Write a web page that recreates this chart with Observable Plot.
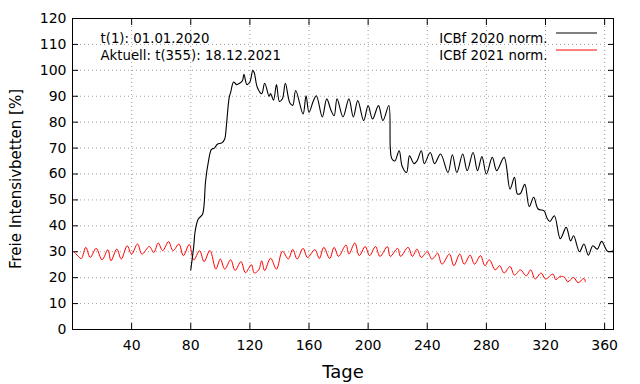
<!DOCTYPE html>
<html>
<head>
<meta charset="utf-8">
<script src="https://cdn.jsdelivr.net/npm/d3@7"></script>
<script src="https://cdn.jsdelivr.net/npm/@observablehq/plot@0.6"></script>
<style>
  html, body { margin: 0; padding: 0; background: white; }
  svg { display: block; }
</style>
</head>
<body>
<div id="chart"></div>
<script>
// ICBf 2020 normalized (black)
const days2020 = [80, 82, 83, 85, 88, 89, 90, 92, 94, 96, 98, 101, 103, 104, 106, 107, 109, 111, 113, 115, 116, 118, 120, 122, 123, 125, 128, 130, 133, 134, 136, 138, 140, 142, 144, 147, 149, 151, 156, 158, 160, 163, 165, 169, 172, 175, 177, 179, 183, 187, 190, 193, 197, 200, 203, 207, 210, 214, 215, 216, 218, 221, 223, 226, 228, 231, 233, 236, 238, 242, 245, 249, 254, 257, 260, 264, 267, 271, 274, 277, 280, 284, 287, 292, 296, 299, 301, 303, 306, 309, 312, 315, 319, 321, 323, 326, 330, 334, 337, 339, 343, 346, 349, 352, 355, 358, 362, 366];
const icbf2020 = [23, 32, 38, 42.5, 44.5, 48, 57, 65, 69.5, 70, 71.5, 72, 73.5, 78, 89.5, 91.5, 95.5, 94.5, 95, 96, 98.5, 94.5, 95.5, 100, 99, 93.5, 91, 95, 90, 91, 88.5, 94.5, 88, 89, 95, 87.5, 86.5, 92.2, 83.2, 90.2, 83.8, 88.3, 90.2, 82, 89, 84.4, 82.5, 89, 82, 89, 82, 88.3, 80.6, 86.4, 81.2, 86.4, 80.6, 86.4, 70, 66, 65, 69, 63, 60.6, 67, 64, 65, 69, 64, 68.3, 64, 67.7, 60.6, 67.4, 60.6, 67.7, 61.3, 68.3, 61.3, 66.7, 60, 66.4, 61.3, 66.4, 54.2, 58.7, 52.3, 52.5, 56, 47.4, 51, 46.5, 45.8, 43, 41.7, 43.9, 35, 39.4, 34.2, 36.2, 30, 33, 28.7, 32.3, 31, 34, 30.2, 30.4];

// ICBf 2021 normalized (red)
const days2021 = [1, 4, 6, 9, 12, 16, 20, 24, 26, 30, 33, 37, 40, 44, 47, 52, 55, 58, 61, 65, 68, 72, 75, 79, 82, 86, 89, 93, 97, 100, 103, 107, 110, 114, 117, 121, 123, 126, 128, 130, 134, 138, 142, 146, 149, 152, 156, 159, 164, 167, 170, 174, 177, 180, 185, 187, 191, 194, 198, 201, 205, 208, 213, 215, 220, 222, 227, 230, 233, 236, 240, 243, 245, 247, 250, 255, 258, 262, 265, 269, 272, 276, 279, 282, 286, 289, 292, 296, 299, 303, 307, 310, 313, 317, 320, 325, 327, 330, 333, 335, 339, 342, 346, 347];
const icbf2021 = [30, 28.2, 27.4, 31.7, 27.8, 31.3, 26.9, 30.8, 26.5, 31, 27.2, 32.3, 29.1, 33, 29.1, 32, 29.7, 33.4, 30.4, 33.9, 30.4, 33, 28.5, 32.8, 26.8, 30.4, 26.2, 30.5, 23.3, 27.2, 23.3, 26.9, 22.8, 26.2, 21.9, 25, 21.8, 23, 26.5, 22.7, 27.5, 23.3, 30.2, 27.2, 30.9, 27.2, 31.3, 27.8, 30.8, 27.4, 31.7, 27.4, 31.7, 28.2, 32.6, 29.1, 33.4, 28.5, 32, 28.5, 32, 28.2, 32, 28.2, 31.3, 28.2, 31.7, 28.2, 31, 27.8, 30, 27.2, 28, 29.5, 25.2, 29.1, 24.6, 29.1, 25.2, 28.7, 25.2, 28.5, 24.6, 26.9, 23, 24.6, 21.8, 24.3, 21, 23, 20.7, 23, 19.5, 21.8, 19.5, 21.4, 19.2, 20.5, 20.1, 18.4, 20.1, 18.1, 19.7, 18.4];

const xTicks = [40, 80, 120, 160, 200, 240, 280, 320, 360];
const yTicks = [0, 10, 20, 30, 40, 50, 60, 70, 80, 90, 100, 110, 120];
const seriesNames = ["ICBf 2020 norm.", "ICBf 2021 norm."];
const seriesColors = ["#000000", "#ff0000"];
const infoLines = ["t(1): 01.01.2020", "Aktuell: t(355): 18.12.2021"];

const data2020 = days2020.map((d, i) => ({day: d, value: icbf2020[i]}));
const data2021 = days2021.map((d, i) => ({day: d, value: icbf2021[i]}));

const W = 640, H = 384;
const mL = 72, mR = 27, mT = 18, mB = 55;
const gridStyle = {stroke: "#a0a0a0", strokeOpacity: 1, strokeDasharray: "1,3", strokeWidth: 1};
const smallFont = 13.3;

const chart = Plot.plot({
  width: W, height: H,
  marginLeft: mL, marginRight: mR, marginTop: mT, marginBottom: mB,
  style: {fontFamily: "DejaVu Sans", fontSize: "14px", background: "white", color: "black"},
  x: {domain: [0, 366]},
  y: {domain: [0, 120]},
  marks: [
    Plot.gridX(xTicks, gridStyle),
    Plot.gridY(yTicks.filter(v => v > 0 && v < 120), gridStyle),
    Plot.axisX(xTicks, {anchor: "bottom", tickSize: -6, tickPadding: 17, label: null, fontSize: 14}),
    Plot.axisX(xTicks, {anchor: "top", tickSize: -6, tickFormat: () => "", label: null}),
    Plot.axisY(yTicks, {anchor: "left", tickSize: -6, tickPadding: 12, label: null, fontSize: 14}),
    Plot.axisY(yTicks, {anchor: "right", tickSize: -6, tickFormat: () => "", label: null}),
    Plot.line(data2021, {x: "day", y: "value", stroke: seriesColors[1], strokeWidth: 1, curve: "catmull-rom"}),
    Plot.line(data2020, {x: "day", y: "value", stroke: seriesColors[0], strokeWidth: 1.1, curve: "catmull-rom"}),
    Plot.frame({stroke: "black", strokeWidth: 1}),
    Plot.text(["Tage"], {frameAnchor: "bottom", dy: 48, fontSize: 18, fill: "black"}),
    Plot.text(["Freie Intensivbetten [%]"], {frameAnchor: "left", textAnchor: "middle", dx: -56, dy: 5, rotate: -90, fontSize: 15, fill: "black"}),
    Plot.text([infoLines[0]], {frameAnchor: "top-left", dx: 28, dy: 15, textAnchor: "start", fontSize: smallFont, fill: "black"}),
    Plot.text([infoLines[1]], {frameAnchor: "top-left", dx: 28, dy: 32, textAnchor: "start", fontSize: smallFont, fill: "black"}),
    Plot.text([seriesNames[0]], {frameAnchor: "top-right", dx: -66, dy: 15, textAnchor: "end", fontSize: smallFont, fill: "black"}),
    Plot.text([seriesNames[1]], {frameAnchor: "top-right", dx: -66, dy: 32, textAnchor: "end", fontSize: smallFont, fill: "black"})
  ]
});

// legend line samples
const svg = d3.select(chart);
const right = W - mR;
[0, 1].forEach(i => {
  svg.append("line")
    .attr("x1", right - 57).attr("x2", right - 16)
    .attr("y1", mT + 15 + 17 * i).attr("y2", mT + 15 + 17 * i)
    .attr("stroke", seriesColors[i]).attr("stroke-width", 1);
});

document.getElementById("chart").appendChild(chart);
</script>
</body>
</html>
